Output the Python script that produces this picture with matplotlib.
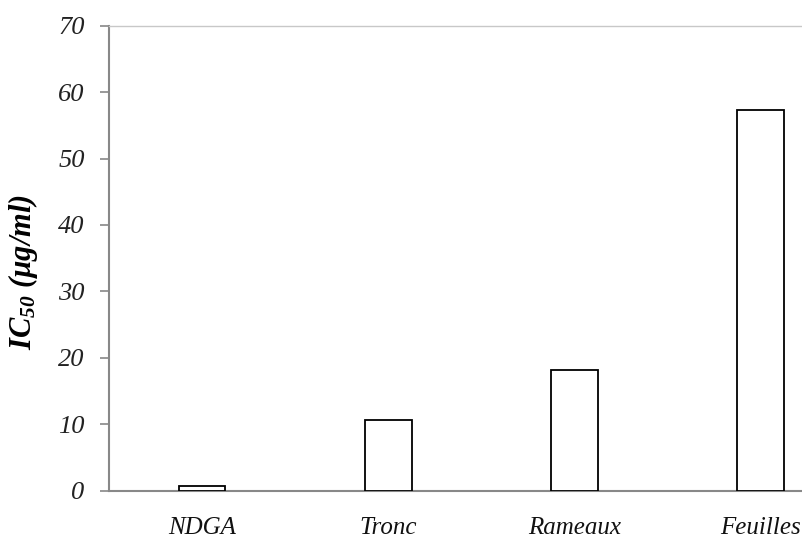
import matplotlib
matplotlib.use("Agg")
import matplotlib.pyplot as plt
import numpy as np

# IC50 values per extract
categories = ["NDGA", "Tronc", "Rameaux", "Feuilles"]
ic50 = [0.75, 10.6, 18.1, 57.3]
yticks = [0, 10, 20, 30, 40, 50, 60, 70]

plt.rcParams["font.family"] = "Liberation Serif"
plt.rcParams["mathtext.fontset"] = "custom"
plt.rcParams["mathtext.it"] = "Liberation Serif:italic:bold"
plt.rcParams["mathtext.rm"] = "Liberation Serif:italic:bold"

fig = plt.figure(figsize=(8.03, 5.40), dpi=100)
# axes run past the right edge, so the last category sits near the border
ax = fig.add_axes([109 / 803, 1 - 490.7 / 540, 694 / 803, 465 / 540])

x = np.arange(len(categories))
ax.bar(x, ic50, width=0.25, color="white", edgecolor="black", linewidth=1.3, zorder=3)

ax.set_xlim(-0.5, -0.5 + 694 / 186.2)
ax.set_ylim(0, 70)
ax.set_yticks(yticks)
ax.set_yticklabels([str(t) for t in yticks], fontstyle="italic", fontsize=19, color="#222222")
ax.set_xticks(x)
ax.set_xticklabels(categories, fontstyle="italic", fontsize=18, color="#111111")

ax.tick_params(axis="y", direction="out", length=6.5, width=1.2, color="#888888", pad=11)
ax.tick_params(axis="x", length=0, pad=19)

for side in ["left", "bottom"]:
    ax.spines[side].set_color("#888888")
    ax.spines[side].set_linewidth(1.5)
ax.spines["top"].set_color("#c8c8c8")
ax.spines["top"].set_linewidth(1.0)
ax.spines["right"].set_visible(False)

ax.set_ylabel("$IC_{50}$ (µg/ml)", fontsize=22, fontweight="bold", fontstyle="italic")
ax.yaxis.set_label_coords(-0.099, 0.47)

fig.savefig("out.png", dpi=100)
